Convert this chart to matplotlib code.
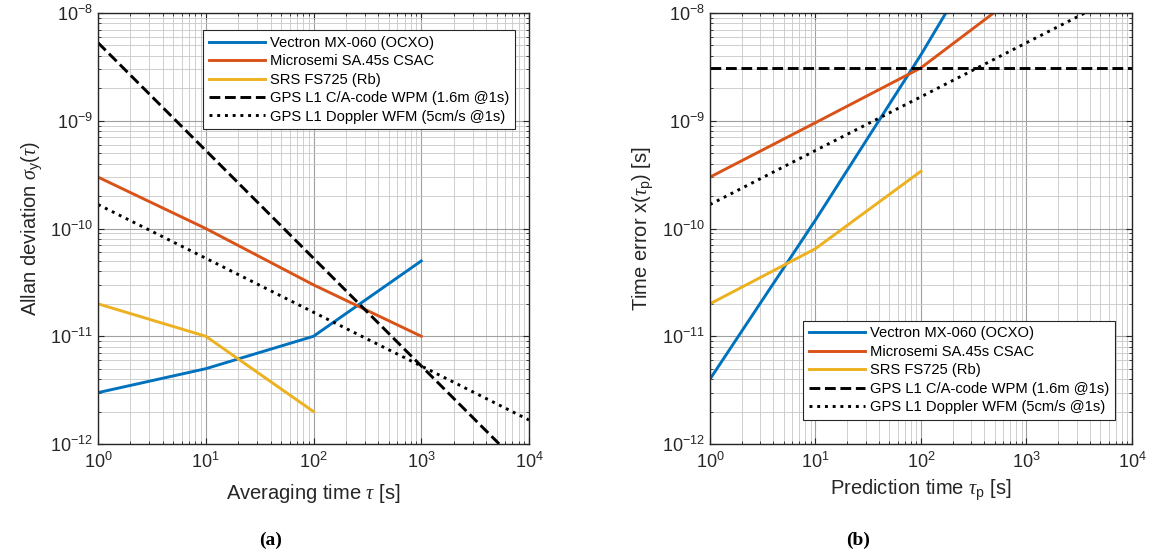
import numpy as np
import matplotlib
matplotlib.use("Agg")
import matplotlib.pyplot as plt
from matplotlib.ticker import LogLocator, NullFormatter

plt.rcParams["font.family"] = ["Liberation Sans", "DejaVu Sans"]
plt.rcParams["mathtext.fontset"] = "custom"
plt.rcParams["mathtext.rm"] = "Liberation Sans"
plt.rcParams["mathtext.it"] = "Liberation Serif:italic"
plt.rcParams["mathtext.bf"] = "Liberation Sans:bold"
plt.rcParams["axes.unicode_minus"] = False

# ---- data ----
labels = ["Vectron MX-060 (OCXO)", "Microsemi SA.45s CSAC", "SRS FS725 (Rb)",
          "GPS L1 C/A-code WPM (1.6m @1s)", "GPS L1 Doppler WFM (5cm/s @1s)"]

tau = [1, 10, 100, 1000]
tau_rb = [1, 10, 100]
tau_gps = [1, 10, 100, 1000, 10000]

# (a) Allan deviation
vectron_adev = [3e-12, 5e-12, 1e-11, 5e-11]
csac_adev = [3e-10, 1e-10, 3e-11, 1e-11]
rb_adev = [2e-11, 1e-11, 2e-12]
gps_code_adev = [5.3e-9, 5.3e-10, 5.3e-11, 5.3e-12, 5.3e-13]
gps_dopp_adev = [1.67e-10, 5.3e-11, 1.67e-11, 5.3e-12, 1.67e-12]

# (b) time error after prediction
vectron_xerr = [4e-12, 1.2e-10, 4.1e-9, 1.8e-7]
csac_xerr = [3e-10, 9.6e-10, 3.1e-9, 1.7e-8]
rb_xerr = [2e-11, 6.5e-11, 3.4e-10]
gps_code_xerr = [3.1e-9, 3.1e-9, 3.1e-9, 3.1e-9, 3.1e-9]
gps_dopp_xerr = [1.67e-10, 5.3e-10, 1.67e-9, 5.3e-9, 1.67e-8]

colors = ["#0072BD", "#D95319", "#EDB120"]
lw = 2.1


def style_axes(ax):
    ax.set_xscale("log")
    ax.set_yscale("log")
    ax.set_xlim(1, 1e4)
    ax.set_ylim(1e-12, 1e-8)
    ax.xaxis.set_major_locator(LogLocator(base=10, numticks=10))
    ax.yaxis.set_major_locator(LogLocator(base=10, numticks=10))
    ax.xaxis.set_minor_locator(LogLocator(base=10, subs=np.arange(2, 10), numticks=20))
    ax.yaxis.set_minor_locator(LogLocator(base=10, subs=np.arange(2, 10), numticks=20))
    ax.xaxis.set_minor_formatter(NullFormatter())
    ax.yaxis.set_minor_formatter(NullFormatter())
    ax.grid(True, which="major", color="#a0a0a0", lw=0.8)
    ax.grid(True, which="minor", color="#c8c8c8", lw=0.6)
    ax.set_axisbelow(True)
    ax.tick_params(which="both", direction="in", top=True, right=True,
                   colors="#262626", labelsize=13, labelcolor="#262626")
    ax.tick_params(which="major", length=4.5, width=0.8)
    ax.tick_params(which="minor", length=2.5, width=0.6)
    ax.tick_params(axis="x", pad=6)
    for s in ax.spines.values():
        s.set_color("#262626")
        s.set_linewidth(1.0)


def legend(ax, loc, anchor):
    leg = ax.legend(loc=loc, bbox_to_anchor=anchor, borderaxespad=0,
                    fontsize=10.6, handlelength=3.8, handletextpad=0.35,
                    labelspacing=0.3, borderpad=0.4, fancybox=False,
                    framealpha=1, edgecolor="#262626")
    leg.get_frame().set_linewidth(0.8)


fig = plt.figure(figsize=(11.52, 5.59), dpi=100)
ax1 = fig.add_axes([0.0851, 0.2057, 0.3741, 0.771])
ax2 = fig.add_axes([0.6163, 0.2057, 0.3663, 0.771])

# (a)
ax1.plot(tau, vectron_adev, color=colors[0], lw=lw, label=labels[0])
ax1.plot(tau, csac_adev, color=colors[1], lw=lw, label=labels[1])
ax1.plot(tau_rb, rb_adev, color=colors[2], lw=lw, label=labels[2])
ax1.plot(tau_gps, gps_code_adev, "k--", lw=lw, label=labels[3])
ax1.plot(tau_gps, gps_dopp_adev, "k:", lw=lw, label=labels[4])
style_axes(ax1)
ax1.set_xlabel(r"Averaging time $\tau$ [s]", fontsize=14.5, color="#262626",
               labelpad=7)
ax1.set_ylabel(r"Allan deviation $\sigma_{\mathrm{y}}(\tau)$", fontsize=14.5,
               color="#262626")
legend(ax1, "upper right", (1 - 14 / 431, 1 - 17 / 431))

# (b)
ax2.plot(tau, vectron_xerr, color=colors[0], lw=lw, label=labels[0])
ax2.plot(tau, csac_xerr, color=colors[1], lw=lw, label=labels[1])
ax2.plot(tau_rb, rb_xerr, color=colors[2], lw=lw, label=labels[2])
ax2.plot(tau_gps, gps_code_xerr, "k--", lw=lw, label=labels[3])
ax2.plot(tau_gps, gps_dopp_xerr, "k:", lw=lw, label=labels[4])
style_axes(ax2)
ax2.set_xlabel(r"Prediction time $\tau_{\mathrm{p}}$ [s]", fontsize=14.5,
               color="#262626", labelpad=4)
ax2.set_ylabel(r"Time error x($\tau_{\mathrm{p}}$) [s]", fontsize=14.5,
               color="#262626")
legend(ax2, "lower right", (1 - 17 / 422, 24 / 431))

fig.text(0.235, 0.034, "(a)", family="Liberation Serif", weight="bold",
         fontsize=14, ha="center", va="center")
fig.text(0.745, 0.034, "(b)", family="Liberation Serif", weight="bold",
         fontsize=14, ha="center", va="center")

fig.savefig("out.png", dpi=100)
